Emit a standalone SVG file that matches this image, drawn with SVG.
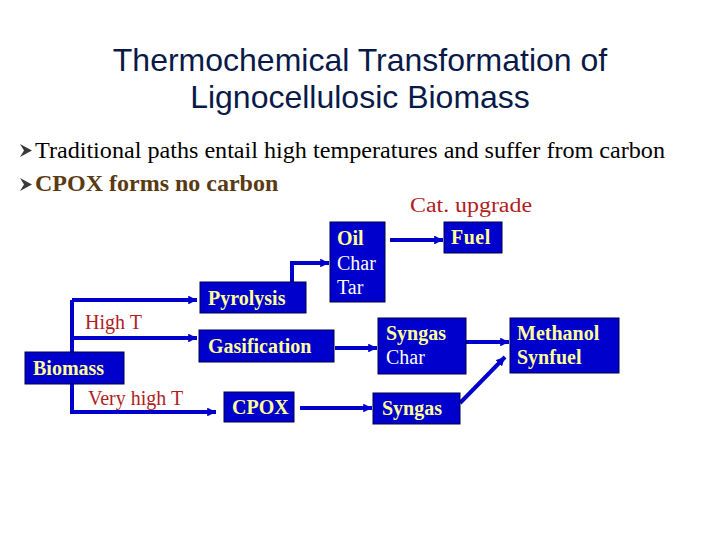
<svg xmlns="http://www.w3.org/2000/svg" width="720" height="540" viewBox="0 0 720 540">
<defs>
<marker id="ah" viewBox="0 0 10 10" refX="10" refY="5" markerWidth="2.2" markerHeight="2.2" orient="auto" markerUnits="strokeWidth">
<path d="M0,0 L10,5 L0,10 z" fill="#0000CC"/>
</marker>
<style>
.box{fill:#0000CC;stroke:#000044;stroke-width:1}
.lb{font-family:"Liberation Serif","Times New Roman",serif;font-size:20px;font-weight:bold;fill:#FFFF99}
.lw{font-family:"Liberation Serif","Times New Roman",serif;font-size:20px;fill:#FFFFFF}
.red{font-family:"Liberation Serif","Times New Roman",serif;font-size:20px;fill:#B01E24}
.cn{stroke:#0000CC;stroke-width:4;fill:none}
.title{font-family:"Liberation Sans",Arial,sans-serif;font-size:32px;fill:#0A1A48;text-anchor:middle}
.bul{fill:#3A3A3A}
</style>
</defs>
<rect width="720" height="540" fill="#FFFFFF"/>
<g id="title">
<text class="title" x="360" y="71">Thermochemical Transformation of</text>
<text class="title" x="360" y="108">Lignocellulosic Biomass</text>
</g>
<g id="bullets">
<polygon class="bul" points="20,144 32,150.5 20,157 24,150.5"/>
<text x="35" y="158" font-family="Liberation Serif,'Times New Roman',serif" font-size="24" fill="#000000" textLength="630" lengthAdjust="spacingAndGlyphs">Traditional paths entail high temperatures and suffer from carbon</text>
<polygon class="bul" points="20,178 32,184.5 20,191 24,184.5"/>
<text x="35" y="191" font-family="Liberation Serif,'Times New Roman',serif" font-size="24" font-weight="bold" fill="#5A3A12">CPOX forms no carbon</text>
</g>
<g id="connectors">
<polyline class="cn" points="72,413 72,300"/>
<line class="cn" x1="72" y1="300" x2="197" y2="300" marker-end="url(#ah)"/>
<line class="cn" x1="72" y1="338" x2="197" y2="338" marker-end="url(#ah)"/>
<line class="cn" x1="70" y1="412" x2="216" y2="412" marker-end="url(#ah)"/>
<polyline class="cn" points="292,282 292,263 329,263" marker-end="url(#ah)"/>
<line class="cn" x1="335" y1="348" x2="377" y2="348" marker-end="url(#ah)"/>
<line class="cn" x1="300" y1="408" x2="372" y2="408" marker-end="url(#ah)"/>
<line class="cn" x1="390" y1="240" x2="443" y2="240" marker-end="url(#ah)"/>
<line class="cn" x1="466" y1="342" x2="509" y2="342" marker-end="url(#ah)"/>
<line class="cn" x1="460" y1="403" x2="505" y2="357" marker-end="url(#ah)"/>
</g>
<g id="labels">
<text class="red" x="85" y="329">High T</text>
<text class="red" x="88" y="405">Very high T</text>
<text class="red" x="410" y="211.5" font-size="21" textLength="122" lengthAdjust="spacingAndGlyphs">Cat. upgrade</text>
</g>
<g id="biomass">
<rect class="box" x="25" y="352" width="99" height="32"/>
<text class="lb" x="33" y="375">Biomass</text>
</g>
<g id="pyrolysis">
<rect class="box" x="200" y="282" width="106" height="31"/>
<text class="lb" x="208" y="305">Pyrolysis</text>
</g>
<g id="gasification">
<rect class="box" x="199" y="330" width="135" height="32"/>
<text class="lb" x="208" y="353">Gasification</text>
</g>
<g id="cpox">
<rect class="box" x="224" y="392" width="70" height="30"/>
<text class="lb" x="232" y="414">CPOX</text>
</g>
<g id="oil">
<rect class="box" x="330" y="222" width="55" height="80"/>
<text class="lb" x="337" y="245">Oil</text>
<text class="lw" x="337" y="270">Char</text>
<text class="lw" x="337" y="294">Tar</text>
</g>
<g id="fuel">
<rect class="box" x="444" y="222" width="58" height="31"/>
<text class="lb" x="451" y="244" letter-spacing="0.5">Fuel</text>
</g>
<g id="syngas-char">
<rect class="box" x="378" y="318" width="88" height="56"/>
<text class="lb" x="386" y="340">Syngas</text>
<text class="lw" x="386" y="364">Char</text>
</g>
<g id="methanol">
<rect class="box" x="510" y="318" width="109" height="55"/>
<text class="lb" x="517" y="340">Methanol</text>
<text class="lb" x="517" y="364">Synfuel</text>
</g>
<g id="syngas">
<rect class="box" x="373" y="393" width="87" height="31"/>
<text class="lb" x="382" y="415">Syngas</text>
</g>
</svg>
